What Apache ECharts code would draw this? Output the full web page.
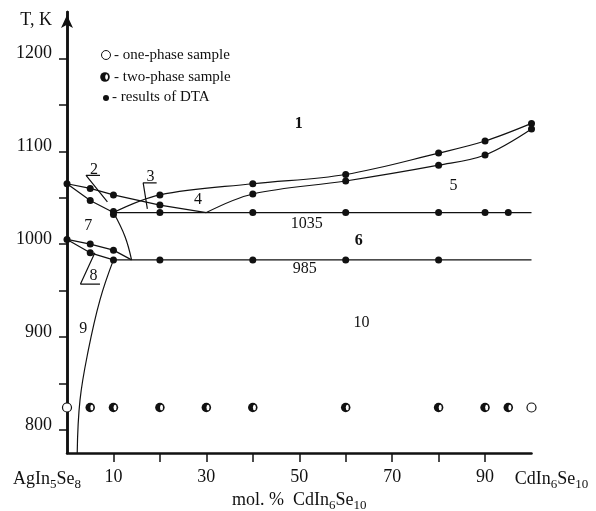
<!DOCTYPE html>
<html>
<head>
<meta charset="utf-8">
<script src="https://cdn.jsdelivr.net/npm/echarts@6/dist/echarts.min.js"></script>
<style>
  html, body { margin: 0; padding: 0; background: #fff; }
  #main { width: 596px; height: 511px; }
</style>
</head>
<body>
<div id="main"></div>
<script>
// x: mol. % CdIn6Se10, y: T, K
var liqLeftX = [0, 5, 10, 20, 30];
var liqLeftT = [1065, 1060, 1053, 1042, 1034];
var solLeftX = [0, 5, 10];
var solLeftT = [1065, 1047, 1034];
var liqRightX = [10, 20, 40, 60, 80, 90, 100];
var liqRightT = [1034, 1053, 1065, 1075, 1098, 1111, 1130];
var solRightX = [30, 40, 60, 80, 90, 100];
var solRightT = [1034, 1054, 1068, 1085, 1096, 1124];
var iso1035X = [10, 100];
var iso1035T = [1034, 1034];
var iso985X = [10, 100];
var iso985T = [983, 983];
var solvusUpX = [10, 12.5, 13.9];
var solvusUpT = [1034, 1008, 983];
var lowUpperX = [0, 5, 10, 13.9];
var lowUpperT = [1005, 1000, 993.5, 983];
var lowLowerX = [0, 5, 10];
var lowLowerT = [1005, 990.6, 983];
var solvusLowX = [10, 7.1, 4.6, 2.8, 2.2];
var solvusLowT = [983, 940, 886, 832, 775];

// DTA points
var dtaX = [0, 5, 10, 5, 10, 10, 20, 20, 20, 40, 40, 40, 60, 60, 60, 80, 80, 80, 90, 90, 90, 95, 100, 100,
            0, 5, 10, 5, 10, 20, 40, 60, 80];
var dtaT = [1065, 1060, 1053, 1047, 1035, 1032, 1053, 1042, 1034, 1065, 1054, 1034, 1075, 1068, 1034, 1098, 1085, 1034, 1111, 1096, 1034, 1034, 1130, 1124,
            1005, 1000, 993.5, 990.6, 983, 983, 983, 983, 983];
// annealed samples
var twoPhaseX = [5, 10, 20, 30, 40, 60, 80, 90, 95];
var onePhaseX = [0, 100];
var annealT = 824;

// region labels
var regionNames = ['1', '2', '3', '4', '5', '6', '7', '8', '9', '10', '1035', '985'];
var regionX = [49.9, 5.8, 18, 28.2, 83.2, 62.8, 4.6, 5.7, 3.5, 63.4, 51.6, 51.2];
var regionT = [1130, 1080, 1072, 1048, 1063, 1003, 1020, 965.6, 909, 915, 1021.5, 973];
var boldNames = ['1', '6'];

// leader lines for labels 2, 3, 8
var leader2 = [[7.1, 1074], [4.1, 1074], [8.7, 1045.5]];
var leader3 = [[19.3, 1066], [16.4, 1066], [17.3, 1038]];
var leader8 = [[7.1, 957], [2.9, 957], [6.0, 990.6]];

var xTicks = [10, 20, 30, 40, 50, 60, 70, 80, 90];
var xLabels = [10, 30, 50, 70, 90];
var endLabels = [0, 100];
var yTicks = [800, 850, 900, 950, 1000, 1050, 1100, 1150, 1200];
var yLabels = [800, 900, 1000, 1100, 1200];

function pts(xs, ts) {
  return xs.map(function (x, i) { return [x, ts[i]]; });
}

var font = 'Liberation Serif';
var ink = '#111';

(function () {
  var myChart = echarts.init(document.getElementById('main'));

  function curve(data, smooth) {
    return {
      type: 'line',
      data: data,
      smooth: smooth || false,
      symbol: 'none',
      silent: true,
      lineStyle: { color: ink, width: 1.2 },
      z: 3
    };
  }

  var option = {
    backgroundColor: '#fff',
    animation: false,
    grid: { left: 67, right: 64.5, top: 12, bottom: 58, outerBoundsMode: 'none', containLabel: false },
    xAxis: [
      {
        type: 'value',
        min: 0,
        max: 100,
        name: '{n|mol. %  CdIn}{s|6}{n|Se}{s|10}',
        nameLocation: 'middle',
        nameGap: 36,
        nameTextStyle: {
          rich: {
            n: { fontFamily: font, fontSize: 18, color: ink },
            s: { fontFamily: font, fontSize: 13, color: ink, padding: [10, 0, 0, 0] }
          }
        },
        axisLine: { lineStyle: { color: ink, width: 2.5 } },
        axisTick: { customValues: xTicks, length: 9, lineStyle: { color: ink, width: 1.5 } },
        axisLabel: {
          customValues: xLabels,
          margin: 15,
          fontFamily: font,
          fontSize: 18,
          color: ink
        },
        splitLine: { show: false }
      },
      {
        // compound names at both ends of the composition axis
        type: 'value',
        min: 0,
        max: 100,
        position: 'bottom',
        axisLine: { show: false },
        axisTick: { show: false },
        axisLabel: {
          customValues: endLabels,
          margin: 15,
          showMinLabel: true,
          showMaxLabel: true,
          formatter: function (v) {
            if (v === 0) return '{a|AgIn}{s|5}{a|Se}{s|8}{gap| }';
            return '{gap| }{a|CdIn}{s|6}{a|Se}{s|10}';
          },
          rich: {
            a: { fontFamily: font, fontSize: 18, color: ink },
            s: { fontFamily: font, fontSize: 13, color: ink, padding: [10, 0, 0, 0] },
            gap: { width: 40 }
          }
        },
        splitLine: { show: false }
      }
    ],
    yAxis: [
      {
        type: 'value',
        min: 775,
        max: 1250,
        name: 'T, K',
        nameLocation: 'end',
        nameGap: -8,
        nameTextStyle: { fontFamily: font, fontSize: 18, color: ink, align: 'right', verticalAlign: 'middle', padding: [0, 15, 0, 0] },
        axisLine: { show: true, lineStyle: { color: ink, width: 2.5 }, symbol: ['none', 'arrow'], symbolSize: [9, 13], symbolOffset: [0, -3] },
        axisTick: { customValues: yTicks, length: 8, lineStyle: { color: ink, width: 1.5 } },
        axisLabel: {
          customValues: yLabels,
          margin: 15,
          fontFamily: font,
          fontSize: 18,
          color: ink,
          verticalAlign: 'bottom',
          lineHeight: 10,
          formatter: function (v) { return String(v); }
        },
        splitLine: { show: false }
      },
      {
        type: 'value',
        min: 775,
        max: 1250,
        position: 'right',
        axisLine: { show: true, lineStyle: { color: ink, width: 2.5 } },
        axisTick: { show: false },
        axisLabel: { show: false },
        splitLine: { show: false }
      }
    ],
    graphic: [
      { type: 'circle', shape: { cx: 106, cy: 55, r: 4.5 }, style: { fill: '#fff', stroke: ink, lineWidth: 1 } },
      { type: 'circle', shape: { cx: 105, cy: 77, r: 4.8 }, style: { fill: ink } },
      { type: 'ellipse', shape: { cx: 106.6, cy: 77, rx: 1.4, ry: 2.8 }, style: { fill: '#fff' } },
      { type: 'circle', shape: { cx: 106, cy: 98, r: 3 }, style: { fill: ink } },
      { type: 'text', x: 114, y: 55, style: { text: '- one-phase sample', font: '15px "Liberation Serif"', fill: ink, verticalAlign: 'middle' } },
      { type: 'text', x: 114, y: 77, style: { text: '- two-phase sample', font: '15px "Liberation Serif"', fill: ink, verticalAlign: 'middle' } },
      { type: 'text', x: 112, y: 97, style: { text: '- results of DTA', font: '15px "Liberation Serif"', fill: ink, verticalAlign: 'middle' } }
    ],
    series: [
      curve(pts(liqLeftX, liqLeftT)),
      curve(pts(solLeftX, solLeftT)),
      curve(pts(liqRightX, liqRightT), 0.35),
      curve(pts(solRightX, solRightT), 0.35),
      curve(pts(iso1035X, iso1035T)),
      curve(pts(iso985X, iso985T)),
      curve(pts(solvusUpX, solvusUpT), 0.4),
      curve(pts(lowUpperX, lowUpperT)),
      curve(pts(lowLowerX, lowLowerT)),
      curve(pts(solvusLowX, solvusLowT), 0.4),
      curve(leader2),
      curve(leader3),
      curve(leader8),
      {
        type: 'scatter',
        data: pts(dtaX, dtaT),
        symbol: 'circle',
        symbolSize: 7,
        itemStyle: { color: ink, opacity: 1 },
        z: 5
      },
      {
        // two-phase: black disc with a white sliver on the right
        type: 'scatter',
        data: twoPhaseX.map(function (x) { return [x, annealT]; }),
        symbol: 'circle',
        symbolSize: 9.5,
        itemStyle: { color: ink, opacity: 1 },
        z: 5
      },
      {
        type: 'scatter',
        data: twoPhaseX.map(function (x) { return [x, annealT]; }),
        symbol: 'circle',
        symbolSize: [3, 5.6],
        symbolOffset: [1.6, 0],
        itemStyle: { color: '#fff', opacity: 1 },
        z: 6
      },
      {
        type: 'scatter',
        data: onePhaseX.map(function (x) { return [x, annealT]; }),
        symbol: 'circle',
        symbolSize: 9,
        itemStyle: { color: '#fff', borderColor: ink, borderWidth: 1.2, opacity: 1 },
        z: 7
      },
      {
        type: 'scatter',
        data: regionNames.map(function (n, i) {
          return {
            name: n,
            value: [regionX[i], regionT[i]],
            label: { fontWeight: boldNames.indexOf(n) >= 0 ? 'bold' : 'normal' }
          };
        }),
        symbolSize: 0,
        silent: true,
        itemStyle: { opacity: 1 },
        label: {
          show: true,
          position: 'inside',
          formatter: '{b}',
          fontFamily: font,
          fontSize: 16,
          color: ink,
          textBorderWidth: 0
        },
        z: 8
      }
    ]
  };

  myChart.setOption(option);
  window.addEventListener('resize', function () {
    myChart.resize();
  });
})();
</script>
</body>
</html>
